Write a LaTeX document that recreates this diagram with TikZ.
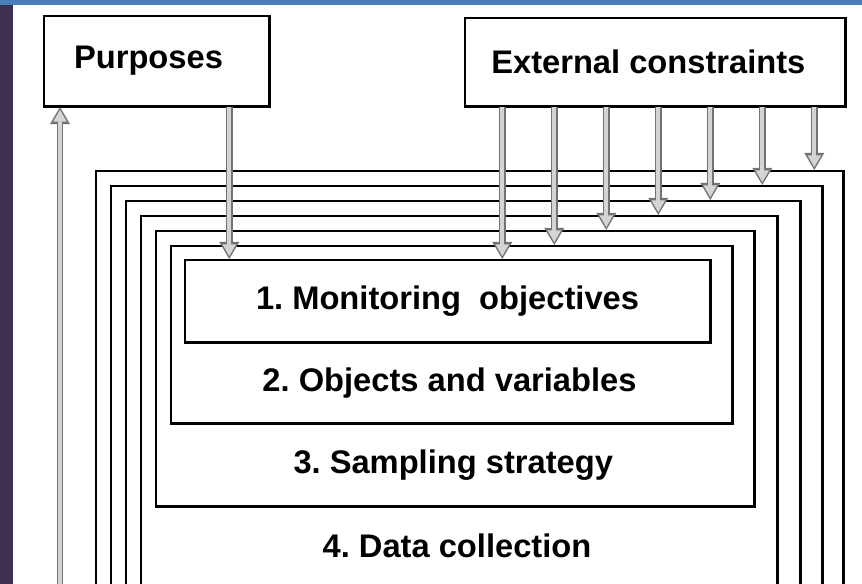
\documentclass[tikz,border=0pt]{standalone}
\usepackage{fontspec}
\setmainfont{Liberation Sans}
\usetikzlibrary{arrows.meta,calc,fit}

\definecolor{stripblue}{HTML}{4A7EBB}
\definecolor{stripplum}{HTML}{3D3050}

\tikzset{
  panel/.style={draw, line width=1.1pt, inner sep=0pt,
    append after command={\pgfextra{\let\thispanel=\tikzlastnode}
      (\thispanel.north east) edge[line width=2.6pt,
        to path={-- (\thispanel.south east) -- (\tikztotarget)}] (\thispanel.south west)}},
  caption/.style={font=\bfseries\fontsize{24.5}{29}\selectfont\frenchspacing},
  feedrim/.style={draw=black!55, line width=5.2pt, -{Triangle[width=14pt,length=13pt]}},
  feedcore/.style={draw=black!17, line width=2.8pt, -{Triangle[width=9.5pt,length=9pt]}, shorten >=2.2pt},
}
\newcommand{\feedarrow}[2]{\draw[feedrim] (#1) -- (#2); \draw[feedcore] (#1) -- (#2);}

\begin{document}
\begin{tikzpicture}[x=0.75pt,y=-0.75pt]
    \useasboundingbox (0,0) rectangle (862,584);
    \clip (0,0) rectangle (862,584);
    \fill[stripblue] (0,0) rectangle (862,5);
    \fill[stripplum] (0,5) rectangle (13,584);

    % nested levels, outermost first
    \foreach \n/\l/\t/\r/\b in {f1/96/171/843/640, f2/111/186/822/625,
        f3/126/201/800/605, f4/141/216/777/585, f5/156/231/754/506, f6/171/246/732/423}
        \node[panel, fit={(\l,\t) (\r,\b)}] (\n) {};
    \node[panel, fit={(185,260) (710,342)},
        label={[caption]center:1. Monitoring~ objectives}] (mon) {};

    \node[caption] (objlbl) at ($(mon.south)!.5!(f6.south)$) {2. Objects and variables};
    \node[caption] (samplbl) at ($(f6.south)!.5!(f5.south)$) {3. Sampling strategy};
    \node[caption] (datalbl) at ($(f5.south)!.5!(f4.south)$) {4. Data collection};

    \node[panel, fit={(44,16) (269,106)},
        label={[caption, xshift=-6pt]center:Purposes}] (purposes) {};
    \node[panel, fit={(465,18) (845,106)},
        label={[caption, xshift=-5pt]center:External constraints}] (ext) {};

    % feeds
    \path (purposes.south west) ++(186,0) coordinate (pc);
    \feedarrow{pc}{pc |- mon.north}
    \foreach \tgt [count=\i from 0] in {mon,f6,f5,f4,f3,f2,f1}{
        \path (ext.south west) ++(38+52*\i,0) coordinate (ec\i);
        \feedarrow{ec\i}{ec\i |- \tgt.north}
    }
    \coordinate (lowend) at (60,600);
    \feedarrow{lowend}{lowend |- purposes.south}
\end{tikzpicture}
\end{document}
